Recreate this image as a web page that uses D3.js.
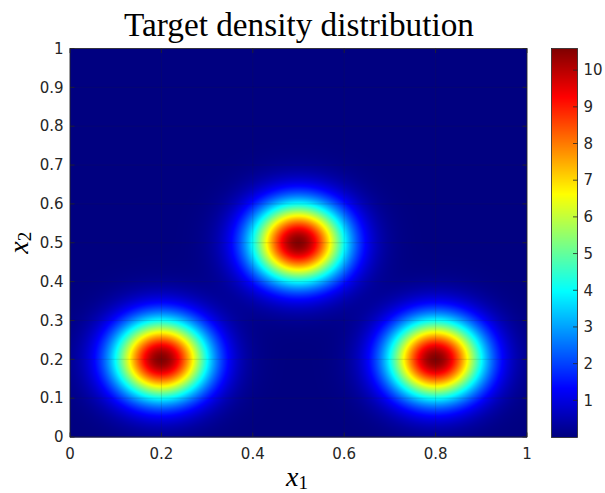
<!DOCTYPE html>
<html>
<head>
<meta charset="utf-8">
<script src="https://cdn.jsdelivr.net/npm/d3@7"></script>
<style>
  body { margin: 0; background: #fff; }
  svg text { fill: #262626; }
</style>
</head>
<body>
<script>
const width = 605
const height = 493
const plot = { left: 70, top: 48.5, right: 527, bottom: 437 }
const cbar = { left: 551.5, right: 577.5 }

// bump centres, peak heights and spreads
const bumpX = [0.2, 0.5, 0.8]
const bumpY = [0.2, 0.5, 0.2]
const bumpPeak = [10.55, 10.55, 10.55]
const bumpSigma = [0.072, 0.072, 0.072]

const xTicks = [0, 0.2, 0.4, 0.6, 0.8, 1]
const yTicks = [0, 0.1, 0.2, 0.3, 0.4, 0.5, 0.6, 0.7, 0.8, 0.9, 1]
const cTicks = [1, 2, 3, 4, 5, 6, 7, 8, 9, 10]
const cRange = [0, 10.59]

const clamp = v => Math.max(0, Math.min(1, v))
const jet = t => {
  const r = clamp(1.5 - Math.abs(4 * t - 3))
  const g = clamp(1.5 - Math.abs(4 * t - 2))
  const b = clamp(1.5 - Math.abs(4 * t - 1))
  return [r * 255, g * 255, b * 255]
}

const density = (x, y) => d3.sum(bumpX, (cx, i) => {
  const dx = x - cx, dy = y - bumpY[i]
  return bumpPeak[i] * Math.exp(-(dx * dx + dy * dy) / (2 * bumpSigma[i] * bumpSigma[i]))
})

const scaleX = d3.scaleLinear().domain([0, 1]).range([plot.left, plot.right])
const scaleY = d3.scaleLinear().domain([0, 1]).range([plot.bottom, plot.top])
const scaleC = d3.scaleLinear().domain(cRange).range([plot.bottom, plot.top])
const norm = d3.scaleLinear().domain(cRange).range([0, 1]).clamp(true)

// heat map image
const pw = Math.round(plot.right - plot.left)
const ph = Math.round(plot.bottom - plot.top)
const canvas = document.createElement("canvas")
canvas.width = pw
canvas.height = ph
const ctx = canvas.getContext("2d")
const img = ctx.createImageData(pw, ph)
for (let j = 0; j < ph; j++) {
  const y = scaleY.invert(plot.top + j + 0.5)
  for (let i = 0; i < pw; i++) {
    const x = scaleX.invert(plot.left + i + 0.5)
    const c = jet(norm(density(x, y)))
    const k = (j * pw + i) * 4
    img.data[k] = c[0]; img.data[k + 1] = c[1]; img.data[k + 2] = c[2]; img.data[k + 3] = 255
  }
}
ctx.putImageData(img, 0, 0)

// colour bar image
const cbCanvas = document.createElement("canvas")
cbCanvas.width = 1
cbCanvas.height = ph
const cctx = cbCanvas.getContext("2d")
for (let j = 0; j < ph; j++) {
  const c = jet(norm(scaleC.invert(plot.top + j + 0.5)))
  cctx.fillStyle = `rgb(${c[0]},${c[1]},${c[2]})`
  cctx.fillRect(0, j, 1, 1)
}

const svg = d3.select("body").append("svg").attr("width", width).attr("height", height)
  .style("font-family", "'DejaVu Sans', sans-serif")

svg.append("image").attr("href", canvas.toDataURL())
  .attr("x", plot.left).attr("y", plot.top).attr("width", pw).attr("height", ph)
  .attr("preserveAspectRatio", "none")

// grid
const grid = svg.append("g").style("stroke", "#262626").style("stroke-opacity", 0.18).style("stroke-width", 0.8)
xTicks.forEach(t => grid.append("line").attr("x1", scaleX(t)).attr("x2", scaleX(t)).attr("y1", plot.top).attr("y2", plot.bottom))
yTicks.forEach(t => grid.append("line").attr("y1", scaleY(t)).attr("y2", scaleY(t)).attr("x1", plot.left).attr("x2", plot.right))

// ticks inside the box
const ticks = svg.append("g").style("stroke", "#262626").style("stroke-width", 0.8)
xTicks.forEach(t => {
  ticks.append("line").attr("x1", scaleX(t)).attr("x2", scaleX(t)).attr("y1", plot.bottom).attr("y2", plot.bottom - 4.5)
  ticks.append("line").attr("x1", scaleX(t)).attr("x2", scaleX(t)).attr("y1", plot.top).attr("y2", plot.top + 4.5)
})
yTicks.forEach(t => {
  ticks.append("line").attr("y1", scaleY(t)).attr("y2", scaleY(t)).attr("x1", plot.left).attr("x2", plot.left + 4.5)
  ticks.append("line").attr("y1", scaleY(t)).attr("y2", scaleY(t)).attr("x1", plot.right).attr("x2", plot.right - 4.5)
})

svg.append("rect").attr("x", plot.left).attr("y", plot.top)
  .attr("width", plot.right - plot.left).attr("height", plot.bottom - plot.top)
  .style("fill", "none").style("stroke", "#262626").style("stroke-width", 0.8)

svg.append("g").selectAll("text").data(xTicks).join("text")
  .attr("x", d => scaleX(d)).attr("y", 459)
  .attr("text-anchor", "middle").style("font-size", "15px")
  .text(d => d3.format("")(d))

svg.append("g").selectAll("text").data(yTicks).join("text")
  .attr("x", plot.left - 6.5).attr("y", d => scaleY(d)).attr("dy", "0.35em")
  .attr("text-anchor", "end").style("font-size", "15px")
  .text(d => d3.format("")(d))

// colour bar
svg.append("image").attr("href", cbCanvas.toDataURL())
  .attr("x", cbar.left).attr("y", plot.top).attr("width", cbar.right - cbar.left).attr("height", ph)
  .attr("preserveAspectRatio", "none")
cTicks.forEach(t => {
  svg.append("line").attr("x1", cbar.right).attr("x2", cbar.right - 4.5)
    .attr("y1", scaleC(t)).attr("y2", scaleC(t)).style("stroke", "#262626").style("stroke-width", 0.8)
})
svg.append("rect").attr("x", cbar.left).attr("y", plot.top)
  .attr("width", cbar.right - cbar.left).attr("height", ph)
  .style("fill", "none").style("stroke", "#262626").style("stroke-width", 0.8)
svg.append("g").selectAll("text").data(cTicks).join("text")
  .attr("x", cbar.right + 6).attr("y", d => scaleC(d)).attr("dy", "0.35em")
  .style("font-size", "15px")
  .text(d => d)

// title and axis labels
const title = svg.append("text").attr("x", 299).attr("y", 36).attr("text-anchor", "middle")
  .style("font-family", "'Liberation Serif', serif").style("font-size", "30px").style("fill", "#000")
  .text("Target density distribution")
const tw = title.node().getComputedTextLength()
title.style("font-size", `${30 * 350 / tw}px`)

const xl = svg.append("text").attr("x", 297).attr("y", 486).attr("text-anchor", "middle")
  .style("font-family", "'Liberation Serif', serif").style("font-size", "28px").style("fill", "#000")
xl.append("tspan").style("font-style", "italic").text("x")
xl.append("tspan").attr("dy", 3).style("font-size", "19px").text("1")

const yl = svg.append("text").attr("transform", `translate(28,${(plot.top + plot.bottom) / 2}) rotate(-90)`)
  .attr("text-anchor", "middle")
  .style("font-family", "'Liberation Serif', serif").style("font-size", "28px").style("fill", "#000")
yl.append("tspan").style("font-style", "italic").text("x")
yl.append("tspan").attr("dy", 3).style("font-size", "19px").text("2")
</script>
</body>
</html>
